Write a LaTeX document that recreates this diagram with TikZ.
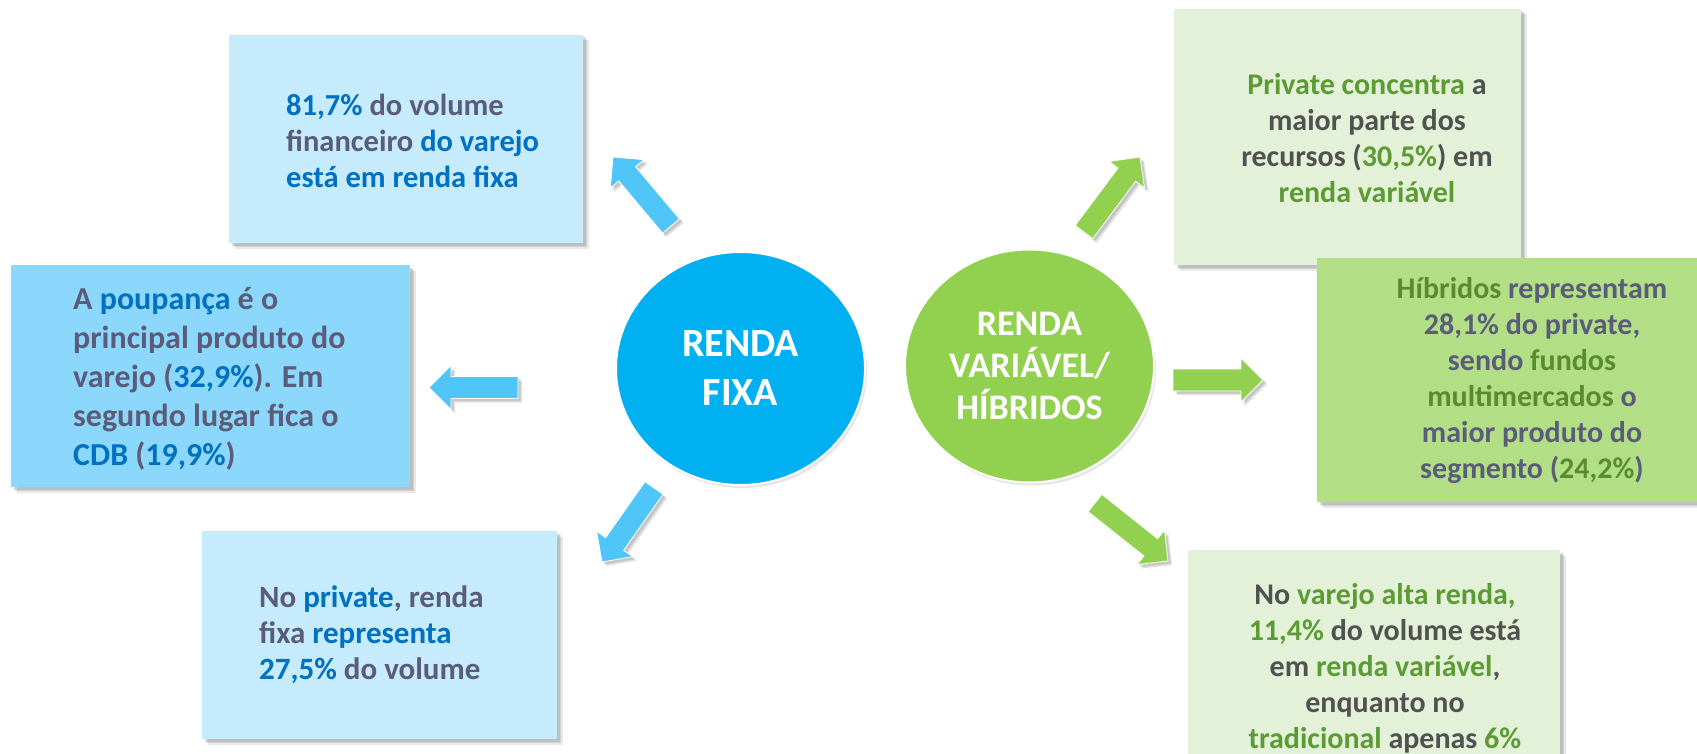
\documentclass[tikz,border=0pt]{standalone}
\usepackage{fontspec}
\setmainfont{Carlito}
\usetikzlibrary{calc,shapes.geometric,shadows}
\definecolor{lblue}{HTML}{C5EBFD}
\definecolor{mblue}{HTML}{8CD8FC}
\definecolor{cblue}{HTML}{00B0F0}
\definecolor{ablue}{HTML}{50C5F8}
\definecolor{tblue}{HTML}{0070C0}
\definecolor{tgray}{HTML}{5B5B7A}
\definecolor{cgreen}{HTML}{92D050}
\definecolor{lgreen}{HTML}{E3F1D8}
\definecolor{mgreen}{HTML}{B2DE85}
\definecolor{tgreen}{HTML}{5C9B33}
\definecolor{tdgreen}{HTML}{5A8C2E}
\definecolor{tdark}{HTML}{515151}
\newcommand\B[1]{\textcolor{tblue}{#1}}
\newcommand\G[1]{\textcolor{tgray}{#1}}
\newcommand\Gr[1]{\textcolor{tgreen}{#1}}
\newcommand\Dk[1]{\textcolor{tdark}{#1}}
\newcommand\Og[1]{\textcolor{tdgreen}{#1}}
\tikzset{
  softshadow/.style={
    drop shadow={shadow xshift=2.5pt, shadow yshift=-2.5pt, opacity=0.18, fill=black!60},
    drop shadow={shadow xshift=4pt, shadow yshift=-4pt, opacity=0.18, fill=black!60},
    drop shadow={shadow xshift=5.5pt, shadow yshift=-5.5pt, opacity=0.14, fill=black!60}},
  infobox/.style={rectangle, draw=none, inner sep=0pt, softshadow},
  boxtext/.style={inner sep=0pt, font=\bfseries\fontsize{30}{36}\selectfont},
  hub/.style={ellipse, draw=white, line width=2pt, inner sep=0pt,
    minimum width=249pt, minimum height=233pt, text=white,
    drop shadow={shadow xshift=2pt, shadow yshift=-3pt, opacity=0.2, fill=black!50}},
  fatarrowsty/.style={draw=white, line width=0.8pt,
    drop shadow={shadow xshift=2.5pt, shadow yshift=-2.5pt, opacity=0.22, fill=black!60},
    drop shadow={shadow xshift=4pt, shadow yshift=-4pt, opacity=0.2, fill=black!60}}
}
\newcommand\fatarrow[3]{%
  \coordinate (hb) at ($(#2)!22pt!(#1)$);
  \filldraw[fatarrowsty, fill=#3]
    ($(#1)!11pt!90:(#2)$) -- ($(hb)!11pt!90:(#2)$) -- ($(hb)!22pt!90:(#2)$) -- (#2)
    -- ($(hb)!22pt!-90:(#2)$) -- ($(hb)!11pt!-90:(#2)$) -- ($(#1)!11pt!-90:(#2)$) -- cycle;
}
\begin{document}
\begin{tikzpicture}[x=1pt,y=-1pt]
\useasboundingbox (0,0) rectangle (1697,754);
\begin{scope}
\clip (0,0) rectangle (1697,754);
% boxes
\node[infobox, fill=lblue, minimum width=354pt, minimum height=208pt] (b1) at (406,139) {};
\node[infobox, fill=mblue, minimum width=399pt, minimum height=222pt] (b2) at (210.5,376) {};
\node[infobox, fill=lblue, minimum width=355pt, minimum height=208pt] (b3) at (379.5,635) {};
\node[infobox, fill=lgreen, minimum width=347pt, minimum height=256pt] (b4) at (1347.5,137) {};
\node[infobox, fill=mgreen, minimum width=380pt, minimum height=244pt] (b5) at (1507,380) {};
\node[infobox, fill=lgreen, minimum width=372pt, minimum height=230pt] (b6) at (1374,665) {};
% texts
\node[boxtext, anchor=west, align=left, font=\bfseries\fontsize{30.5}{36}\selectfont] (t1) at (286,141)
  {\B{81,7\%} \G{do volume}\\\G{financeiro} \B{do varejo}\\\B{está em renda fixa}};
\node[boxtext, anchor=west, align=left, font=\bfseries\fontsize{32}{39}\selectfont] (t2) at (73,379)
  {\G{A} \B{poupança} \G{é o}\\\G{principal produto do}\\\G{varejo (}\B{32,9\%}\G{). Em}\\\G{segundo lugar fica o}\\\B{CDB} \G{(}\B{19,9\%}\G{)}};
\node[boxtext, anchor=west, align=left, font=\bfseries\fontsize{31}{36}\selectfont] (t3) at (259,635)
  {\G{No} \B{private}\G{, renda}\\\G{fixa} \B{representa}\\\B{27,5\%} \G{do volume}};
\node[boxtext, align=center] (t4) at (1367,138)
  {\Gr{Private concentra} \Dk{a}\\\Dk{maior parte dos}\\\Dk{recursos (}\Gr{30,5\%}\Dk{) em}\\\Gr{renda variável}};
\node[boxtext, align=center] (t5) at (1532,381)
  {\Og{Híbridos} \G{representam}\\\G{28,1\% do private,}\\\G{sendo} \Og{fundos}\\\Og{multimercados} \G{o}\\\G{maior produto do}\\\G{segmento (}\Og{24,2\%}\G{)}};
\node[boxtext, align=center] (t6) at (1385,668)
  {\Dk{No} \Gr{varejo alta renda,}\\\Gr{11,4\%} \Dk{do volume está}\\\Dk{em} \Gr{renda variável}\Dk{,}\\\Dk{enquanto no}\\\Gr{tradicional} \Dk{apenas} \Gr{6\%}};
% hubs
\node[hub, fill=cblue, align=center, font=\bfseries\fontsize{40}{49}\selectfont] (rf) at (740.5,368.5) {RENDA\\FIXA};
\node[hub, fill=cgreen, align=center, font=\bfseries\fontsize{36}{42}\selectfont] (rv) at (1029.5,366) {RENDA\\VARIÁVEL/\\HÍBRIDOS};
% arrows
\coordinate (nwt) at (671,226); \coordinate (nwp) at (613,157);
\coordinate (wt) at (518,387.5); \coordinate (wp) at (429,387.5);
\coordinate (swt) at (654,488); \coordinate (swp) at (602,562);
\coordinate (net) at (1084,232); \coordinate (nep) at (1140,157);
\coordinate (et) at (1173,380); \coordinate (ep) at (1263,380);
\coordinate (set) at (1095,503); \coordinate (sep) at (1168,561);
\fatarrow{nwt}{nwp}{ablue}
\fatarrow{wt}{wp}{ablue}
\fatarrow{swt}{swp}{ablue}
\fatarrow{net}{nep}{cgreen}
\fatarrow{et}{ep}{cgreen}
\fatarrow{set}{sep}{cgreen}
\end{scope}
\end{tikzpicture}
\end{document}
